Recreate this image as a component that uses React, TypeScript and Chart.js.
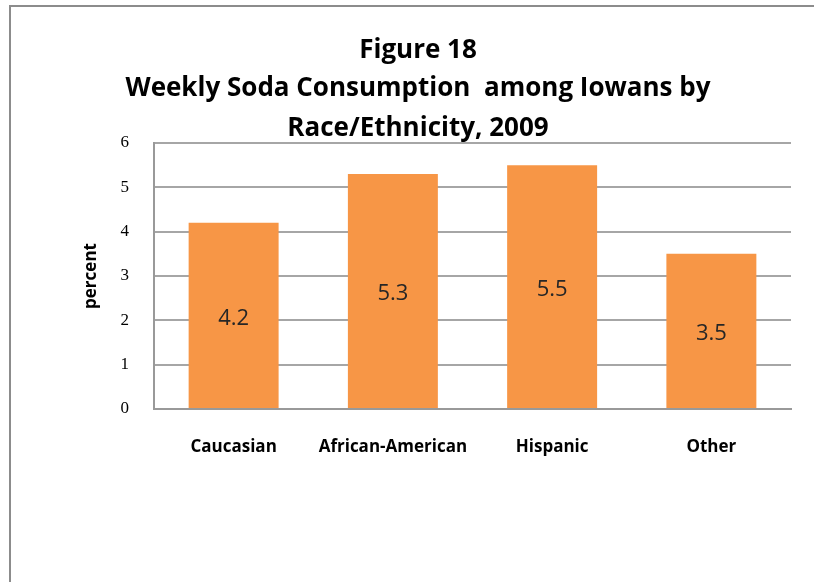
import React, { useEffect, useRef } from "react";
import { Chart, registerables } from "chart.js";

Chart.register(...registerables);

const categories = ["Caucasian", "African-American", "Hispanic", "Other"];
const sodaPercent = [4.2, 5.3, 5.5, 3.5];
const titleLines = [
  "Figure 18",
  "Weekly Soda Consumption  among Iowans by",
  "Race/Ethnicity, 2009",
];
const yAxisTitle = "percent";

const W = 814;
const H = 582;

// Outer frame of the figure (runs off the right and bottom edges)
const framePlugin = {
  id: "frame",
  beforeDraw(chart: any) {
    const ctx = chart.ctx;
    ctx.save();
    ctx.fillStyle = "#ffffff";
    ctx.fillRect(0, 0, W, H);
    ctx.strokeStyle = "#8c8c8c";
    ctx.lineWidth = 2;
    ctx.strokeRect(10, 6, W + 20, H + 20);
    ctx.restore();
  },
};

// Three-line heading centred over the figure
const headingPlugin = {
  id: "heading",
  afterDraw(chart: any) {
    const ctx = chart.ctx;
    ctx.save();
    ctx.fillStyle = "#000000";
    ctx.textAlign = "center";
    ctx.textBaseline = "alphabetic";
    ctx.font = 'bold 26px "Open Sans"';
    const baselines = [58, 96, 136];
    titleLines.forEach((line, i) => ctx.fillText(line, 418, baselines[i]));
    ctx.restore();
  },
};

// Value printed in the middle of each bar
const valueLabelPlugin = {
  id: "valueLabels",
  afterDatasetsDraw(chart: any) {
    const ctx = chart.ctx;
    const meta = chart.getDatasetMeta(0);
    ctx.save();
    ctx.fillStyle = "#262626";
    ctx.textAlign = "center";
    ctx.textBaseline = "middle";
    ctx.font = '22px "Open Sans"';
    meta.data.forEach((bar: any, i: number) => {
      const v = chart.data.datasets[0].data[i] as number;
      ctx.fillText(v.toFixed(1), bar.x, (bar.y + bar.base) / 2 + 3);
    });
    ctx.restore();
  },
};

export default function App() {
  const canvasRef = useRef<HTMLCanvasElement | null>(null);

  useEffect(() => {
    if (!canvasRef.current) return;
    const chart = new Chart(canvasRef.current, {
      type: "bar",
      data: {
        labels: categories,
        datasets: [
          {
            data: sodaPercent,
            backgroundColor: "#F79646",
            borderWidth: 0,
            categoryPercentage: 0.565,
            barPercentage: 1,
          },
        ],
      },
      options: {
        animation: false,
        responsive: false,
        maintainAspectRatio: false,
        layout: { padding: { left: 0, top: 143, right: 23, bottom: 0 } },
        plugins: {
          legend: { display: false },
          tooltip: { enabled: false },
          title: { display: false },
        },
        scales: {
          x: {
            grid: { display: false, drawTicks: false },
            border: { display: true, color: "#999999", width: 2 },
            ticks: {
              color: "#000000",
              padding: 28,
              font: { family: '"Open Sans"', size: 17, weight: "bold" },
            },
            afterFit(scale: any) {
              scale.height = H - 409;
            },
          },
          y: {
            min: 0,
            max: 6,
            ticks: {
              stepSize: 1,
              color: "#000000",
              padding: 25,
              font: { family: '"Liberation Serif"', size: 17 },
            },
            grid: { color: "#a6a6a6", lineWidth: 2, drawTicks: false },
            border: { display: true, color: "#999999", width: 2 },
            title: {
              display: true,
              text: yAxisTitle,
              color: "#000000",
              font: { family: '"Open Sans"', size: 17, weight: "bold" },
              padding: { top: 81, bottom: 0 },
            },
            afterFit(scale: any) {
              scale.width = 154;
            },
          },
        },
      },
      plugins: [framePlugin, headingPlugin, valueLabelPlugin],
    });
    return () => chart.destroy();
  }, []);

  return (
    <div style={{ position: "absolute", left: 0, top: 0, width: W, height: H }}>
      <canvas ref={canvasRef} width={W} height={H} style={{ display: "block" }} />
    </div>
  );
}
